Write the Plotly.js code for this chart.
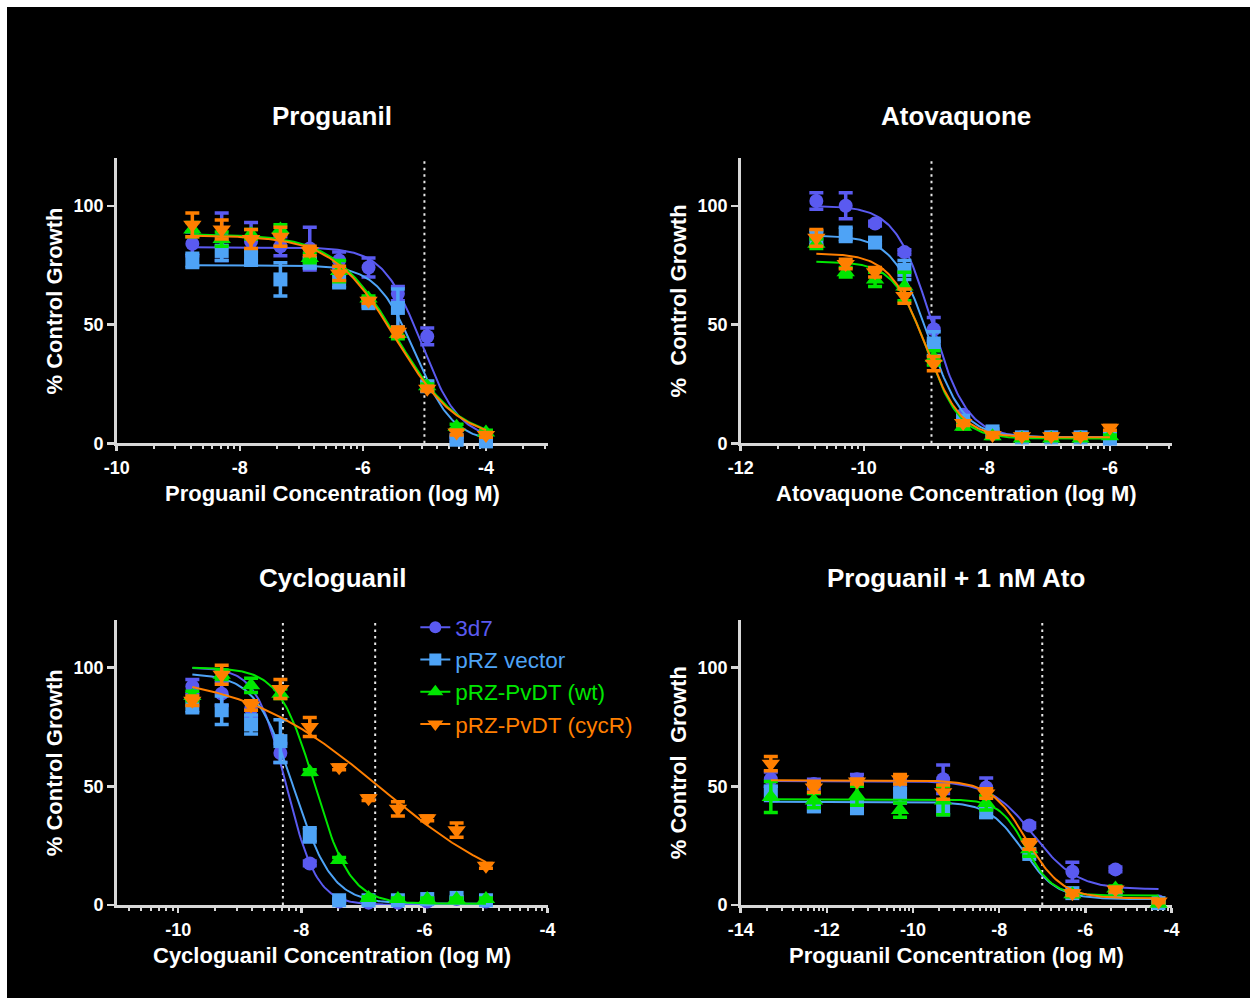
<!DOCTYPE html>
<html>
<head>
<meta charset="utf-8">
<script src="https://cdn.plot.ly/plotly-3.0.1.min.js"></script>
<style>
  html, body { margin: 0; padding: 0; background: #ffffff; }
  #chart { position: absolute; left: 7px; top: 7px; width: 1243px; height: 991px; }
</style>
</head>
<body>
<div id="chart"></div>
<script>
// ---- strains ----
const strainNames   = ['3d7', 'pRZ vector', 'pRZ-PvDT (wt)', 'pRZ-PvDT (cycR)'];
const strainColors  = ['#5a5af0', '#4ea3f6', '#00e600', '#ff7f00'];
const strainSymbols = ['circle', 'square', 'triangle-up', 'triangle-down'];

// ---- Proguanil (log M) ----
const proguanilLogConc = [-8.771, -8.294, -7.817, -7.340, -6.863, -6.386, -5.908, -5.431, -4.954, -4.477, -4.000];
const proguanil3d7     = [84, 87, 85, 83, 82, 77, 74, 63, 45, 2, 1];
const proguanil3d7Err  = [5, 10, 8, 4, 9, 3.5, 4, 3, 3.5, 1, 1];
const proguanilVec     = [77, 81, 78, 69, 76, 68.5, 59, 57, 24, 1.5, 0.8];
const proguanilVecErr  = [3, 4, 3, 7, 2, 3, 1.5, 8, 2, 1, 1];
const proguanilWt      = [90, 86, 88, 90, 78, 72.5, 61, 46, 24, 7, 4.5];
const proguanilWtErr   = [3, 3, 2, 2, 2, 4.5, 1, 2, 1, 1, 1];
const proguanilCyc     = [92, 90, 86, 87, 81, 71.5, 60, 47, 23, 4.5, 3.5];
const proguanilCycErr  = [5, 4, 4, 4, 2, 3, 1, 2, 1, 1, 1];
// fitted curves: [top, bottom, logIC50, hill]
const proguanilFit3d7  = [82.5, 1.5, -5.05, 1.4];
const proguanilFitVec  = [75, 0.5, -5.15, 1.4];
const proguanilFitWt   = [88, 1, -5.45, 0.85];
const proguanilFitCyc  = [87.5, 1, -5.47, 0.85];
const proguanilRefLines = [-5.0];

// ---- Atovaquone (log M) ----
const atovaquoneLogConc = [-10.771, -10.294, -9.817, -9.340, -8.863, -8.386, -7.908, -7.431, -6.954, -6.477, -6.000];
const atovaquone3d7     = [102, 100, 92.5, 80.5, 48, 12, 4, 2.5, 2.5, 2.5, 2];
const atovaquone3d7Err  = [3.5, 5.5, 1, 1, 5, 1, 1, 0.5, 0.5, 0.5, 0.5];
const atovaquoneVec     = [86.5, 88, 84.5, 73, 42, 9.5, 5, 2.5, 2.5, 2.5, 2];
const atovaquoneVecErr  = [3, 3, 1, 4, 5, 1, 1, 0.5, 0.5, 0.5, 0.5];
const atovaquoneWt      = [84, 72, 69, 66, 36, 7, 3, 2, 2, 2, 3];
const atovaquoneWtErr   = [2, 2, 3, 6, 3, 1, 1, 0.5, 0.5, 0.5, 0.5];
const atovaquoneCyc     = [86.5, 75.5, 72, 62, 33.5, 8.5, 3.5, 3, 3, 3, 6.5];
const atovaquoneCycErr  = [3.5, 2, 2, 3, 3, 1, 1, 1, 1, 1, 1];
const atovaquoneFit3d7  = [100, 2.5, -8.9, 1.5];
const atovaquoneFitVec  = [87.5, 2.5, -8.95, 1.5];
const atovaquoneFitWt   = [76.5, 2, -8.97, 1.6];
const atovaquoneFitCyc  = [80, 2.5, -9.0, 1.5];
const atovaquoneRefLines = [-8.9];

// ---- Cycloguanil (log M) ----
const cycloLogConc = [-9.771, -9.294, -8.817, -8.340, -7.863, -7.386, -6.908, -6.431, -5.954, -5.477, -5.000];
const cyclo3d7     = [92, 89, 82.5, 64, 17.5, 1.5, 1, 1, 1.5, 2.5, 1.5];
const cyclo3d7Err  = [3, 5, 3, 4, 1, 0.5, 0.5, 0.5, 0.5, 0.5, 0.5];
const cycloVec     = [84, 82, 76, 69, 29.5, 2, 2, 2, 2.5, 3, 2];
const cycloVecErr  = [3, 6, 4, 9, 3, 0.5, 0.5, 0.5, 0.5, 0.5, 0.5];
const cycloWt      = [88, 97, 92.5, 89, 56, 19, 3, 2.5, 2.5, 2.5, 2.5];
const cycloWtErr   = [2, 2, 3, 2, 1, 1, 0.5, 0.5, 0.5, 0.5, 0.5];
const cycloCyc     = [86, 97, 84, 91, 75, 58, 45, 40.5, 36.5, 31.5, 16.5];
const cycloCycErr  = [2, 4, 2, 4, 4, 1, 1, 3, 1, 3, 1];
const cycloFit3d7  = [100, 0, -8.24, 1.78];
const cycloFitVec  = [97.5, 0.5, -8.12, 1.4];
const cycloFitWt   = [100, 0.5, -7.78, 1.5];
const cycloFitCyc  = [98, 0, -6.7, 0.38];
const cycloRefLines = [-8.3, -6.8];

// ---- Proguanil + 1 nM Ato (log M) ----
const comboLogConc = [-13.301, -12.301, -11.301, -10.301, -9.301, -8.301, -7.301, -6.301, -5.301, -4.301];
const combo3d7     = [53, 51, 53, 51, 53, 49.5, 33.5, 14, 15, 1.5];
const combo3d7Err  = [3, 2, 2, 2, 6, 4, 1, 4, 1, 0.5];
const comboVec     = [47, 41.5, 41.5, 47, 41, 39, 21.5, 5, 5.5, 0.8];
const comboVecErr  = [3, 2, 3, 4, 3, 2, 1, 1, 1, 0.5];
const comboWt      = [45.5, 44, 46, 40, 44, 43, 23.5, 4.5, 7, 0.5];
const comboWtErr   = [6.5, 3, 4, 3, 6, 3, 3, 1, 1, 0.5];
const comboCyc     = [59.5, 49.5, 52, 53, 47.5, 47, 25.5, 5, 6.5, 1.5];
const comboCycErr  = [3, 2, 1, 2, 3, 2, 2, 1, 1, 0.5];
const comboFit3d7  = [52.2, 6.6, -7.2, 0.87];
const comboFitVec  = [43.5, 2.5, -7.45, 1.1];
const comboFitWt   = [44.5, 4, -7.38, 1.4];
const comboFitCyc  = [52.5, 2.8, -7.37, 1.05];
const comboRefLines = [-7.0];

// ---- axes: ranges and labelled ticks ----
const proguanilXRange = [-10, -3];  const proguanilXTicks = [-10, -8, -6, -4];
const atovaquoneXRange = [-12, -5]; const atovaquoneXTicks = [-12, -10, -8, -6];
const cycloXRange = [-11, -4];      const cycloXTicks = [-10, -8, -6, -4];
const comboXRange = [-14, -4];      const comboXTicks = [-14, -12, -10, -8, -6, -4];
const yRange = [0, 120];
const yTicks = [0, 50, 100];

const panelTitles = ['Proguanil', 'Atovaquone', 'Cycloguanil', 'Proguanil + 1 nM Ato'];
const xTitles = ['Proguanil Concentration (log M)', 'Atovaquone Concentration (log M)',
                 'Cycloguanil Concentration (log M)', 'Proguanil Concentration (log M)'];
const yTitles = ['% Control Growth', '%\u00a0 Control Growth', '% Control Growth', '% Control\u00a0 Growth'];

// ---- drawing ----
const FONT = 'Liberation Sans, Arial, Helvetica, sans-serif';
const AXIS_COLOR = '#d8d8d8';

const panels = [
  { xs: proguanilLogConc, ys: [proguanil3d7, proguanilVec, proguanilWt, proguanilCyc],
    errs: [proguanil3d7Err, proguanilVecErr, proguanilWtErr, proguanilCycErr],
    fits: [proguanilFit3d7, proguanilFitVec, proguanilFitWt, proguanilFitCyc],
    refs: proguanilRefLines, xRange: proguanilXRange, xTicks: proguanilXTicks },
  { xs: atovaquoneLogConc, ys: [atovaquone3d7, atovaquoneVec, atovaquoneWt, atovaquoneCyc],
    errs: [atovaquone3d7Err, atovaquoneVecErr, atovaquoneWtErr, atovaquoneCycErr],
    fits: [atovaquoneFit3d7, atovaquoneFitVec, atovaquoneFitWt, atovaquoneFitCyc],
    refs: atovaquoneRefLines, xRange: atovaquoneXRange, xTicks: atovaquoneXTicks },
  { xs: cycloLogConc, ys: [cyclo3d7, cycloVec, cycloWt, cycloCyc],
    errs: [cyclo3d7Err, cycloVecErr, cycloWtErr, cycloCycErr],
    fits: [cycloFit3d7, cycloFitVec, cycloFitWt, cycloFitCyc],
    refs: cycloRefLines, xRange: cycloXRange, xTicks: cycloXTicks },
  { xs: comboLogConc, ys: [combo3d7, comboVec, comboWt, comboCyc],
    errs: [combo3d7Err, comboVecErr, comboWtErr, comboCycErr],
    fits: [comboFit3d7, comboFitVec, comboFitWt, comboFitCyc],
    refs: comboRefLines, xRange: comboXRange, xTicks: comboXTicks }
];

// subplot boxes in paper fractions
const xDomains = [[0.08826, 0.43484], [0.59027, 0.93685], [0.08826, 0.43484], [0.59027, 0.93685]];
const yDomains = [[0.55974, 0.84733], [0.55974, 0.84733], [0.09384, 0.38143], [0.09384, 0.38143]];

function logistic(p, x) {
  const top = p[0], bottom = p[1], ic = p[2], hill = p[3];
  return bottom + (top - bottom) / (1 + Math.pow(10, (x - ic) * hill));
}

// log-spaced minor ticks inside each labelled interval
function minorTicks(range, majors) {
  const step = majors[1] - majors[0];
  const out = [];
  for (let m = majors[0] - step; m < range[1]; m += step) {
    for (let k = 2; k <= 9; k++) {
      const v = m + step * Math.log10(k);
      if (v > range[0] + 1e-9 && v <= range[1] + 1e-9) out.push(v);
    }
  }
  return out;
}

const markerSize = [14, 14, 16, 16];

const traces = [];
panels.forEach((pn, i) => {
  const xa = 'x' + (i === 0 ? '' : i + 1);
  const ya = 'y' + (i === 0 ? '' : i + 1);
  // dotted reference lines
  pn.refs.forEach(r => {
    traces.push({
      x: [r, r], y: [yRange[0], yRange[1]], xaxis: xa, yaxis: ya,
      mode: 'lines', hoverinfo: 'skip', showlegend: false,
      line: { color: '#e8e8e8', width: 2, dash: '2.5px,4px' }
    });
  });
  for (let s = 0; s < 4; s++) {
    const lo = Math.min(...pn.xs), hi = Math.max(...pn.xs);
    const cx = [], cy = [];
    for (let j = 0; j <= 200; j++) {
      const x = lo + (hi - lo) * j / 200;
      cx.push(x); cy.push(logistic(pn.fits[s], x));
    }
    traces.push({
      x: cx, y: cy, xaxis: xa, yaxis: ya, mode: 'lines', hoverinfo: 'skip',
      showlegend: false, line: { color: strainColors[s], width: 2 }
    });
    traces.push({
      x: pn.xs, y: pn.ys[s], xaxis: xa, yaxis: ya, mode: 'markers',
      name: strainNames[s], showlegend: false, cliponaxis: false,
      marker: { color: strainColors[s], symbol: strainSymbols[s], size: markerSize[s] },
      error_y: { type: 'data', array: pn.errs[s], visible: true,
                 color: strainColors[s], thickness: 3.5, width: 7 }
    });
  }
});

// legend entries (line + symbol)
for (let s = 0; s < 4; s++) {
  traces.push({
    x: [null], y: [null], xaxis: 'x3', yaxis: 'y3', mode: 'lines+markers',
    name: '<span style="color:' + strainColors[s] + '">' + strainNames[s] + '</span>',
    line: { color: strainColors[s], width: 2 },
    marker: { color: strainColors[s], symbol: strainSymbols[s], size: s >= 2 ? 14 : 12 }
  });
}

const layout = {
  width: 1243, height: 991,
  margin: { l: 0, r: 0, t: 0, b: 0 },
  paper_bgcolor: '#000000', plot_bgcolor: '#000000',
  showlegend: true,
  legend: {
    x: 0.3285, y: 0.3955, xanchor: 'left', yanchor: 'top',
    bgcolor: 'rgba(0,0,0,0)', borderwidth: 0,
    font: { family: FONT, size: 22.5, color: '#ffffff' },
    itemclick: false, itemdoubleclick: false
  },
  annotations: [],
  hovermode: false
};

panels.forEach((pn, i) => {
  const suffix = i === 0 ? '' : String(i + 1);
  layout['xaxis' + suffix] = {
    domain: xDomains[i], anchor: 'y' + suffix, range: pn.xRange,
    tickmode: 'array', tickvals: pn.xTicks,
    ticktext: pn.xTicks.map(v => (v < 0 ? '-' : '') + Math.abs(v)),
    showgrid: false, zeroline: false,
    showline: true, linecolor: AXIS_COLOR, linewidth: 2.5,
    ticks: 'outside', ticklen: 5, tickwidth: 2.5, tickcolor: AXIS_COLOR,
    ticklabelstandoff: 2,
    minor: { tickmode: 'array', tickvals: minorTicks(pn.xRange, pn.xTicks),
             ticks: 'outside', ticklen: 3, tickwidth: 2, tickcolor: AXIS_COLOR, showgrid: false },
    tickfont: { family: FONT, size: 18, color: '#ffffff', weight: 'bold' },
    layer: 'below traces', fixedrange: true
  };
  layout['yaxis' + suffix] = {
    domain: yDomains[i], anchor: 'x' + suffix, range: yRange,
    tickmode: 'array', tickvals: yTicks, ticktext: yTicks.map(String),
    showgrid: false, zeroline: false,
    showline: true, linecolor: AXIS_COLOR, linewidth: 2.5,
    ticks: 'outside', ticklen: 7, tickwidth: 2.5, tickcolor: AXIS_COLOR,
    tickfont: { family: FONT, size: 18, color: '#ffffff', weight: 'bold' },
    layer: 'below traces', fixedrange: true
  };
  const xc = (xDomains[i][0] + xDomains[i][1]) / 2;
  const top = yDomains[i][1], bot = yDomains[i][0];
  const h = 991;
  // panel title
  layout.annotations.push({
    text: panelTitles[i], xref: 'paper', yref: 'paper', x: xc, y: top + 42 / h,
    xanchor: 'center', yanchor: 'middle', showarrow: false,
    font: { family: FONT, size: 26, color: '#ffffff', weight: 'bold' }
  });
  // x-axis title
  layout.annotations.push({
    text: xTitles[i], xref: 'paper', yref: 'paper', x: xc, y: bot - 50 / h,
    xanchor: 'center', yanchor: 'middle', showarrow: false,
    font: { family: FONT, size: 22, color: '#ffffff', weight: 'bold' }
  });
  // y-axis title
  layout.annotations.push({
    text: yTitles[i], xref: 'paper', yref: 'paper',
    x: xDomains[i][0] - 62 / 1243, y: (top + bot) / 2,
    xanchor: 'center', yanchor: 'middle', textangle: -90, showarrow: false,
    font: { family: FONT, size: 22, color: '#ffffff', weight: 'bold' }
  });
});

Plotly.newPlot('chart', traces, layout, { displayModeBar: false, staticPlot: true });
</script>
</body>
</html>
